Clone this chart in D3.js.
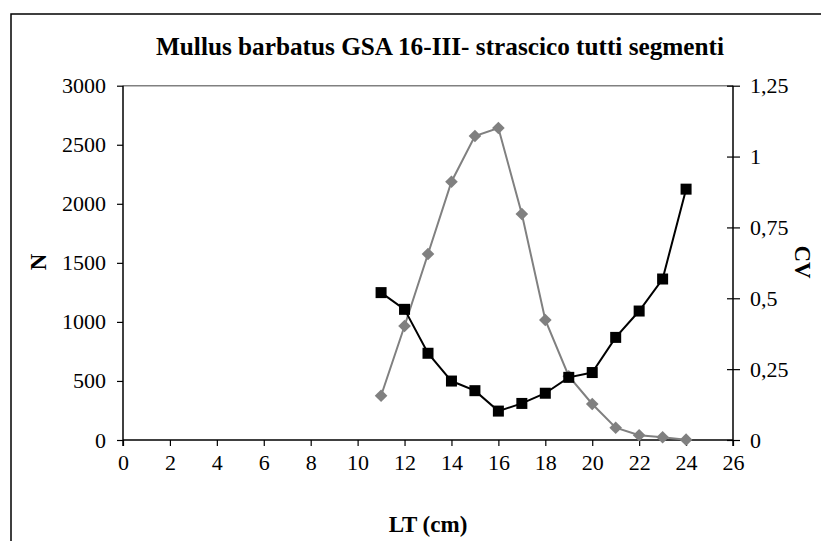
<!DOCTYPE html>
<html><head><meta charset="utf-8">
<script src="https://cdn.jsdelivr.net/npm/d3@7"></script>
<style>body{margin:0;background:#fff}svg{display:block}text{font-family:"Liberation Serif","Times New Roman",serif;fill:#000}</style>
</head><body><svg id="c" width="821" height="541"></svg>
<script>
const title = "Mullus barbatus GSA 16-III- strascico tutti segmenti";
const lengths = [11,12,13,14,15,16,17,18,19,20,21,22,23,24];
const nValues = [375,965,1575,2187,2574,2642,1914,1016,540,305,104,40,23,3];
const cvValues = [0.52,0.461,0.306,0.208,0.174,0.102,0.129,0.165,0.221,0.238,0.362,0.455,0.568,0.885];
const xTicks = [0,2,4,6,8,10,12,14,16,18,20,22,24,26];
const nTicks = [0,500,1000,1500,2000,2500,3000];
const cvTicks = [0,0.25,0.5,0.75,1,1.25];
const cvTickLabels = ["0","0,25","0,5","0,75","1","1,25"];

const svg = d3.select("#c");
const L=123, R=733, T=85.7, B=440;
const x = d3.scaleLinear().domain([0,26]).range([L,R]);
const yN = d3.scaleLinear().domain([0,3000]).range([B,T]);
const yCV = d3.scaleLinear().domain([0,1.25]).range([B,T]);

// outer frame
svg.append("rect").attr("x",11).attr("y",14).attr("width",900).attr("height",700)
  .attr("fill","none").attr("stroke","#000").attr("stroke-width",1.5);

// title
svg.append("text").attr("x",440).attr("y",55).attr("text-anchor","middle")
  .attr("font-size",25).attr("font-weight","bold")
  .attr("textLength",568).attr("lengthAdjust","spacingAndGlyphs").text(title);

// top border (gray)
svg.append("line").attr("x1",L).attr("x2",R).attr("y1",T).attr("y2",T)
  .attr("stroke","#808080").attr("stroke-width",1.5);

// x axis
const xAxis = d3.axisBottom(x).tickValues(xTicks).tickSize(6).tickFormat(d=>d);
const gx = svg.append("g").attr("transform",`translate(0,${B})`).call(xAxis);
gx.attr("font-family",null);
gx.select(".domain").attr("d",`M${L},0H${R}`).attr("stroke","#000").attr("stroke-width",1.5);
gx.selectAll(".tick line").attr("stroke","#000").attr("stroke-width",1.2);
gx.selectAll(".tick text").attr("font-size",22).attr("y",14).attr("dy","0.71em");

// left axis
const yAxisL = d3.axisLeft(yN).tickValues(nTicks).tickSize(6).tickFormat(d=>d);
const gl = svg.append("g").attr("transform",`translate(${L},0)`).call(yAxisL);
gl.attr("font-family",null);
gl.select(".domain").attr("d",`M0,${T}V${B+6}`).attr("stroke","#000").attr("stroke-width",1.5);
gl.selectAll(".tick line").attr("stroke","#000").attr("stroke-width",1.2);
gl.selectAll(".tick text").attr("font-size",22).attr("x",-17);

// right axis
const yAxisR = d3.axisRight(yCV).tickValues(cvTicks).tickSize(7).tickFormat((d,i)=>cvTickLabels[i]);
const gr = svg.append("g").attr("transform",`translate(${R},0)`).call(yAxisR);
gr.attr("font-family",null);
gr.select(".domain").attr("d",`M0,${T}V${B+6}`).attr("stroke","#000").attr("stroke-width",1.5);
gr.selectAll(".tick line").attr("x1",-6).attr("stroke","#000").attr("stroke-width",1.2);
gr.selectAll(".tick text").attr("font-size",22).attr("x",17);

// axis titles
svg.append("text").attr("x",(L+R)/2).attr("y",532).attr("text-anchor","middle")
  .attr("font-size",23).attr("font-weight","bold").text("LT (cm)");
svg.append("text").attr("transform","translate(38,262) rotate(-90)").attr("text-anchor","middle")
  .attr("dy","0.35em").attr("font-size",23).attr("font-weight","bold").text("N");
svg.append("text").attr("transform","translate(803,262) rotate(90)").attr("text-anchor","middle")
  .attr("dy","0.35em").attr("font-size",23).attr("font-weight","bold").text("CV");

// N series (gray diamonds)
const nData = lengths.map((l,i)=>({l, v:nValues[i]}));
svg.append("path").datum(nData)
  .attr("d", d3.line().x(d=>x(d.l)).y(d=>yN(d.v)))
  .attr("fill","none").attr("stroke","#808080").attr("stroke-width",2);
svg.selectAll(".dia").data(nData).enter().append("path").attr("class","dia")
  .attr("d", d3.symbol().type(d3.symbolSquare).size(80))
  .attr("transform",d=>`translate(${x(d.l)},${yN(d.v)}) rotate(45)`)
  .attr("fill","#808080");

// CV series (black squares)
const cvData = lengths.map((l,i)=>({l, v:cvValues[i]}));
svg.append("path").datum(cvData)
  .attr("d", d3.line().x(d=>x(d.l)).y(d=>yCV(d.v)))
  .attr("fill","none").attr("stroke","#000").attr("stroke-width",2);
svg.selectAll(".sq").data(cvData).enter().append("rect").attr("class","sq")
  .attr("x",d=>x(d.l)-5.5).attr("y",d=>yCV(d.v)-5.5).attr("width",11).attr("height",11)
  .attr("fill","#000");
</script></body></html>
